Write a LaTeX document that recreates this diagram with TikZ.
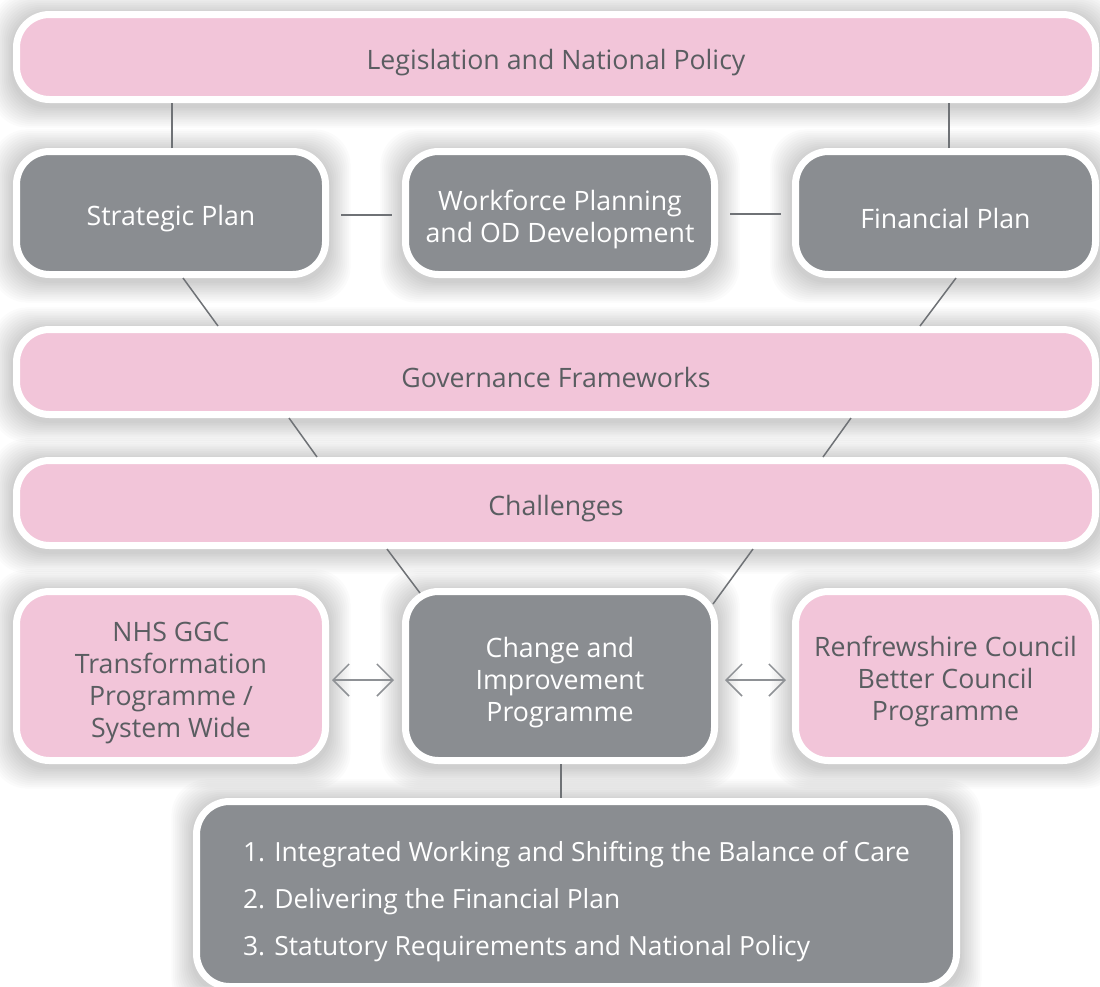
\documentclass[tikz,border=0pt]{standalone}
\usepackage{fontspec}
\setmainfont{Open Sans}
\usetikzlibrary{positioning, arrows.meta, backgrounds}
\definecolor{boxpink}{HTML}{F2C5D9}
\definecolor{boxgrey}{HTML}{8A8D91}
\definecolor{linegrey}{HTML}{6F7276}
\definecolor{tipgrey}{HTML}{8E9195}
\definecolor{textgrey}{HTML}{5A5D61}
\tikzstyle{pwide} = [rectangle, draw=white, line width=7pt, fill=boxpink, text=textgrey,
rounded corners=33pt, minimum width=1079pt, minimum height=85pt]
\tikzstyle{gblock} = [rectangle, draw=white, line width=7pt, fill=boxgrey, text=white,
rounded corners=33pt, minimum width=309pt, minimum height=123pt]
\tikzstyle{pblock} = [rectangle, draw=white, line width=7pt, fill=boxpink, text=textgrey,
rounded corners=33pt, minimum width=309pt, minimum height=169pt]
\tikzstyle{gtall} = [gblock, minimum height=169pt]
\tikzstyle{glist} = [gblock, minimum width=760pt, minimum height=185pt]
\tikzstyle{link} = [draw=linegrey, line width=1.5pt]
\tikzstyle{twoway} = [draw=tipgrey, line width=1.5pt,
{Straight Barb[length=16pt,width=32pt]}-{Straight Barb[length=16pt,width=32pt]}]
% strut that pushes the text block a little below the box centre
\tikzset{lower/.style={execute at begin node={\rule{0pt}{#1}}}}

\begin{document}
\begin{tikzpicture}[x=1pt, y=-1pt]
                \tikzstyle{every node}=[font=\fontsize{26.7}{32}\selectfont, align=center, lower=32pt]
                \useasboundingbox (0,0) rectangle (1100,986);
                % top band and the three plans
                \node (1) [pwide] at (556,57) {Legislation and National Policy};
                \node (2) [gblock] at (171,213) {Strategic Plan};
                \node (3) [gblock, lower=66pt] at (560,213) {Workforce Planning\\and OD Development};
                \node (4) [gblock, minimum width=300pt] at (945.5,213) {Financial Plan};
                % middle bands
                \node (5) [pwide] at (556,372) {Governance Frameworks};
                \node (6) [pwide] at (556,503) {Challenges};
                % programmes
                \node (7) [pblock, lower=130pt] at (171,676) {NHS GGC\\Transformation\\Programme /\\System Wide};
                \node (8) [gtall, lower=98pt] at (560,676) {Change and\\Improvement\\Programme};
                \node (9) [pblock, lower=96pt, minimum width=300pt] at (945.5,676) {Renfrewshire Council\\Better Council\\Programme};
                % priorities
                \node (10) [glist, align=left, font=\fontsize{26.4}{47}\selectfont, lower=130pt] at (576.5,894)
                {1. Integrated Working and Shifting the Balance of Care\\
                 2. Delivering the Financial Plan\\
                 3. Statutory Requirements and National Policy};
                % soft shadows behind every box
                \begin{scope}[on background layer]
                \fill[white] (0,0) rectangle (1100,986);
                \foreach \n in {1,...,10}
                  \foreach \k in {1,...,12}
                    \fill[black, opacity=0.016, rounded corners=36pt]
                      ([shift={(-1.8*\k pt,-1.8*\k pt-3pt)}]\n.south west) rectangle
                      ([shift={(1.8*\k pt,1.8*\k pt-3pt)}]\n.north east);
                \end{scope}
                \draw [link] ([xshift=1pt]2.north) -- ([xshift=1pt]2.north |- 1.south);
                \draw [link] ([xshift=3.5pt]4.north) -- ([xshift=3.5pt]4.north |- 1.south);
                \draw [link, shorten <=12pt, shorten >=10pt] ([yshift=-2pt]2.east) -- ([yshift=-2pt]3.west);
                \draw [link, shorten <=12pt, shorten >=11pt] ([yshift=-1pt]3.east) -- ([yshift=-1pt]4.west);
                \draw [link] ([xshift=12pt]2.south) -- ([xshift=-338pt]5.north);
                \draw [link] ([xshift=10.5pt]4.south) -- ([xshift=364pt]5.north);
                \draw [link] ([xshift=-267pt]5.south) -- ([xshift=-239pt]6.north);
                \draw [link] ([xshift=295pt]5.south) -- ([xshift=267pt]6.north);
                \draw [link] ([xshift=-169pt]6.south) -- ([xshift=-140pt,yshift=-5pt]8.north);
                \draw [link] ([xshift=197pt]6.south) -- ([shift={(-5pt,-16pt)}]8.north east);
                \draw [twoway, shorten <=3pt, shorten >=8pt] ([yshift=-4pt]7.east) -- ([yshift=-4pt]8.west);
                \draw [twoway, shorten <=7pt, shorten >=6pt] ([yshift=-4pt]8.east) -- ([yshift=-4pt]9.west);
                \draw [link] ([xshift=1pt]8.south) -- ([xshift=1pt]8.south |- 10.north);
\end{tikzpicture}
\end{document}
